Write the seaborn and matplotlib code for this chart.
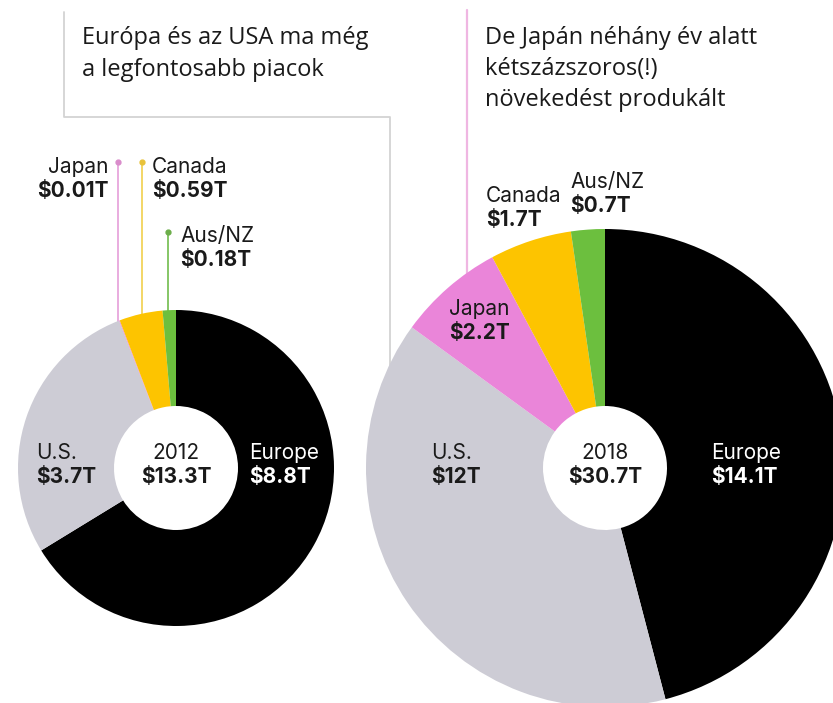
import matplotlib
matplotlib.use("Agg")
import matplotlib.pyplot as plt
import seaborn as sns
import numpy as np

sns.set_theme(style="white")
plt.rcParams['font.family'] = ['Inter', 'DejaVu Sans']

# ---- data ----
regions = ["Europe", "U.S.", "Japan", "Canada", "Aus/NZ"]
values_2012 = [8.8, 3.7, 0.01, 0.59, 0.18]
values_2018 = [14.1, 12.0, 2.2, 1.7, 0.7]
labels_2012 = ["$8.8T", "$3.7T", "$0.01T", "$0.59T", "$0.18T"]
labels_2018 = ["$14.1T", "$12T", "$2.2T", "$1.7T", "$0.7T"]
years = ["2012", "2018"]
totals = ["$13.3T", "$30.7T"]
note_left = ["Európa és az USA ma még", "a legfontosabb piacok"]
note_right = ["De Japán néhány év alatt", "kétszázszoros(!)", "növekedést produkált"]

colors = sns.color_palette(["#000000", "#cdccd5", "#ea85d9", "#fdc400", "#6cbf3e"])

W, H = 833, 703
fig = plt.figure(figsize=(W / 100, H / 100), dpi=100)
ax = fig.add_axes([0, 0, 1, 1])

def Y(py):
    return H - py

# pie geometry (pixels)
c1, r1 = (176, 468), 158
c2, r2 = (605, 468), 239
hole = 62

for vals, (cx, cy), r in [(values_2012, c1, r1), (values_2018, c2, r2)]:
    ax.pie(vals, colors=colors, startangle=90, counterclock=False,
           center=(cx, Y(cy)), radius=r,
           wedgeprops=dict(width=r - hole, linewidth=0, edgecolor="none"),
           frame=True)
ax.set_xlim(0, W)
ax.set_ylim(0, H)
ax.set_aspect("equal")
ax.axis("off")

def edge_y(c, r, x):
    dx = x - c[0]
    return c[1] - np.sqrt(r * r - dx * dx)

# ---- leader lines ----
line_cols = {"Japan": "#e7a6dc", "Canada": "#f2d35a", "Aus/NZ": "#7cc25a"}
dot_cols = {"Japan": "#d98ccb", "Canada": "#e8c23a", "Aus/NZ": "#6cae4a"}
for name, x, ytop in [("Japan", 118, 162), ("Canada", 142, 162), ("Aus/NZ", 168, 232)]:
    yb = edge_y(c1, r1, x) + 4
    ax.plot([x, x], [Y(ytop), Y(yb)], color=line_cols[name], lw=1.3, zorder=0.5)
    ax.plot([x], [Y(ytop)], "o", ms=3.5, color=dot_cols[name], zorder=3)

# right pink line
xr = 467
ax.plot([xr, xr], [Y(10), Y(edge_y(c2, r2, xr) + 4)], color="#efb6e2", lw=1.6, zorder=0.5)

# gray bracket line for the left note
gx1, gx2, gy = 64, 390, 117
ax.plot([gx1, gx1, gx2, gx2], [Y(12), Y(gy), Y(gy), Y(edge_y(c2, r2, gx2) + 4)],
        color="#d3d3d3", lw=1.3, zorder=0.5)

# ---- notes ----
note_font = ['Open Sans', 'DejaVu Sans']
for i, line in enumerate(note_left):
    ax.text(82, Y(38 + 32 * i), line, family=note_font, fontsize=17, color="#1a1a1a",
            ha="left", va="center")
for i, line in enumerate(note_right):
    ax.text(485, Y(38 + 31 * i), line, family=note_font, fontsize=17, color="#1a1a1a",
            ha="left", va="center")

# ---- labels ----
FS = 15

def label(x, y, name, val, ha="left", color="#1a1a1a"):
    ax.text(x, Y(y), name, fontsize=FS, color=color, ha=ha, va="center")
    ax.text(x, Y(y + 24), val, fontsize=FS, fontweight="bold", color=color, ha=ha, va="center")

# 2012
label(109, 167, regions[2], labels_2012[2], ha="right")
label(152, 167, regions[3], labels_2012[3])
label(180, 236, regions[4], labels_2012[4])
label(36, 453, regions[1], labels_2012[1])
label(249, 453, regions[0], labels_2012[0], color="white")
label(176, 453, years[0], totals[0], ha="center")

# 2018
label(486, 196, regions[3], labels_2018[3])
label(570, 182, regions[4], labels_2018[4])
label(449, 309, regions[2], labels_2018[2])
label(431, 453, regions[1], labels_2018[1])
label(711, 453, regions[0], labels_2018[0], color="white")
label(605, 453, years[1], totals[1], ha="center")

fig.savefig("out.png", dpi=100, facecolor="white")
